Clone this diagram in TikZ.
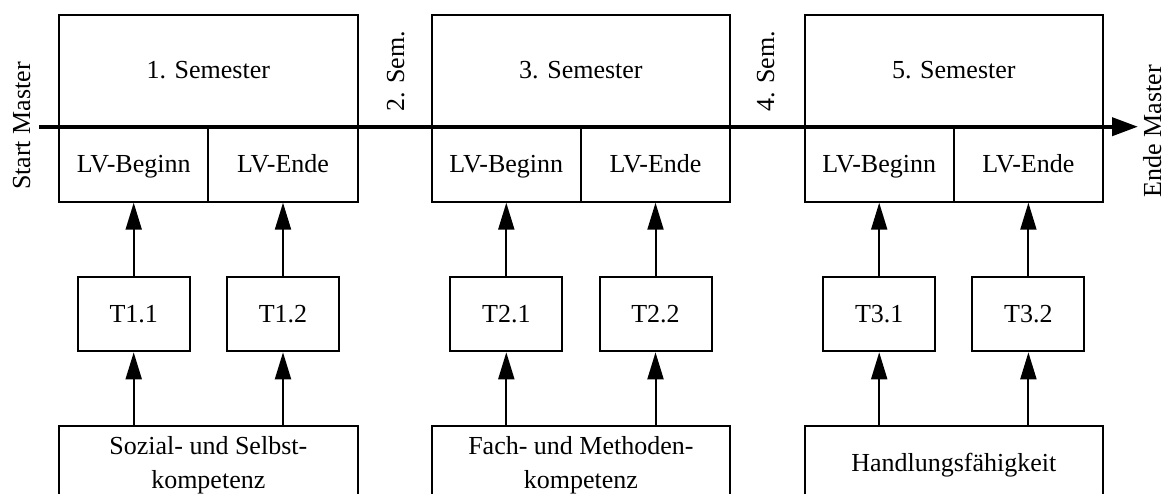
\documentclass[tikz,border=0pt]{standalone}
\usepackage{fontspec}
\setmainfont{Liberation Serif}
\usetikzlibrary{arrows.meta}
\begin{document}
\begin{tikzpicture}[x=1pt,y=-1pt,
  box/.style={draw,line width=2pt,inner sep=0pt,font=\fontsize{26}{34}\selectfont,align=center},
  onel/.style={text height=20pt,text depth=4pt},
  sembox/.style={box,onel,minimum width=298.5pt,minimum height=111.7pt},
  halfbox/.style={box,onel,minimum width=149.25pt,minimum height=75pt},
  tbox/.style={box,onel,minimum width=112pt,minimum height=74.6pt},
  kbox/.style={box,minimum width=298.5pt,minimum height=78pt},
  lbl/.style={inner sep=0pt,font=\fontsize{26}{34}\selectfont,rotate=90,text height=18pt,text depth=6pt},
  up/.style={line width=2pt,-{Triangle[length=27pt,width=16pt]}},
  timeaxis/.style={line width=4pt,-{Triangle[length=26pt,width=18pt]}}]
\clip (0,0) rectangle (1169,493);
\useasboundingbox (0,0) rectangle (1169,493);

% Semester 1
\node[sembox] (s1) at (208.3,70.8) {1. Semester};
\node[halfbox] (b1) at (133.7,164.2) {LV-Beginn};
\node[halfbox] (e1) at (283,164.2) {LV-Ende};
\node[tbox] (t11) at (133.7,314) {T1.1};
\node[tbox] (t12) at (283,314) {T1.2};
\node[kbox] (k1) at (208.3,465) {Sozial- und Selbst-\\kompetenz};

% Semester 3
\node[sembox] (s3) at (580.9,70.8) {3. Semester};
\node[halfbox] (b3) at (506.3,164.2) {LV-Beginn};
\node[halfbox] (e3) at (655.5,164.2) {LV-Ende};
\node[tbox] (t21) at (506.3,314) {T2.1};
\node[tbox] (t22) at (655.5,314) {T2.2};
\node[kbox] (k3) at (580.9,465) {Fach- und Methoden-\\kompetenz};

% Semester 5
\node[sembox] (s5) at (953.8,70.8) {5. Semester};
\node[halfbox] (b5) at (879.2,164.2) {LV-Beginn};
\node[halfbox] (e5) at (1028.4,164.2) {LV-Ende};
\node[tbox] (t31) at (879.2,314) {T3.1};
\node[tbox] (t32) at (1028.4,314) {T3.2};
\node[kbox] (k5) at (953.8,465) {Handlungsfähigkeit};

% arrows
\foreach \t/\b/\k in {t11/b1/k1,t12/e1/k1,t21/b3/k3,t22/e3/k3,t31/b5/k5,t32/e5/k5}{
  \draw[up] (\t.north) -- (\b.south);
  \draw[up] (\k.north -| \t) -- (\t.south);
}

% time axis
\coordinate (st) at (39,126.7);
\coordinate (en) at (1138,126.7);
\draw[timeaxis] (st) -- (en);

\node[lbl] (startm) at (24,126) {Start Master};
\node[lbl] (endem) at (1155,131) {Ende Master};
\node[lbl] (sem2) at (398,71.5) {2. Sem.};
\node[lbl] (sem4) at (768,71.5) {4. Sem.};
\end{tikzpicture}
\end{document}
